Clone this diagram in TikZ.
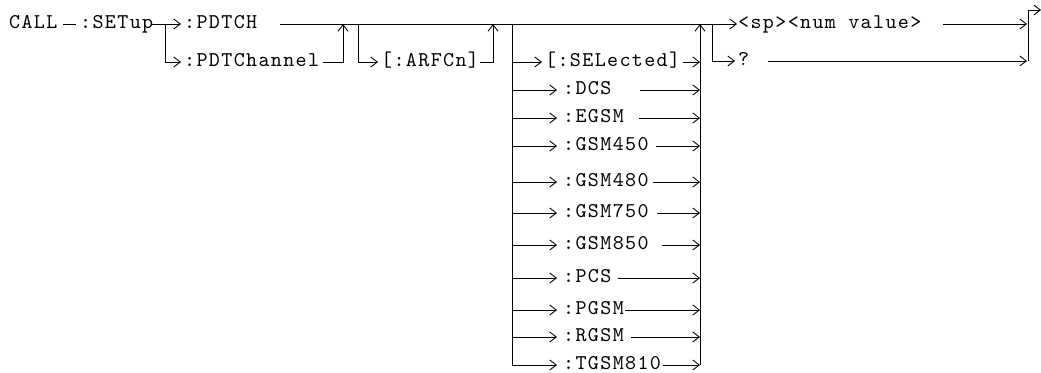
\documentclass[tikz,border=0pt]{standalone}
\usepackage{fontspec}
\newfontfamily\railfont{lmmono10-regular.otf}[LetterSpace=6.5]
\usetikzlibrary{arrows.meta}
\tikzset{
  txt/.style={anchor=base west, inner sep=0pt,
    font=\railfont\fontsize{21}{21}\selectfont},
  rail/.style={line width=0.9pt},
  arr/.style={rail, -{Straight Barb[length=6.5pt,width=10pt,line width=0.9pt]}}
}
\begin{document}
\begin{tikzpicture}[x=1pt,y=-1pt]
\useasboundingbox (0,0) rectangle (1041,372);
% texts
\node[txt] (call) at (9,28) {CALL};
\node[txt] (setup) at (80,28) {:SETup};
\node[txt] (pdtch) at (184,28) {:PDTCH};
\node[txt] (pdtchannel) at (184,66) {:PDTChannel};
\node[txt] (arfcn) at (381,66) {[:ARFCn]};
\node[txt] (sel) at (545,66) {[:SELected]};
\node[txt] (num) at (738,28) {<sp><num value>};
\node[txt] (query) at (738,65) {?};
% coordinates
\coordinate (d1) at (63,24); \coordinate (d2) at (76,24);
\coordinate (s1) at (152,24); \coordinate (b1) at (165,24); \coordinate (b1d) at (165,62);
\coordinate (t1) at (181,24); \coordinate (t2) at (181,62);
\coordinate (m0) at (280,24); \coordinate (j1) at (343,24); \coordinate (j1d) at (343,62);
\coordinate (pc) at (323,62);
\coordinate (b2) at (358,24); \coordinate (b2d) at (358,62); \coordinate (t3) at (378,62);
\coordinate (ae) at (480,62); \coordinate (j2d) at (493,62); \coordinate (j2) at (493,24);
\coordinate (b3) at (512,24); \coordinate (b3d) at (512,365);
\coordinate (j3) at (700,24); \coordinate (j3d) at (700,365);
\coordinate (b4) at (712,24); \coordinate (b4d) at (712,61); \coordinate (t4) at (735,61);
\coordinate (m1) at (737,24);
\coordinate (ne) at (943,24); \coordinate (ne2) at (1027,24);
\coordinate (qe) at (768,61); \coordinate (qe2) at (1027,61);
\coordinate (j4) at (1028,61); \coordinate (j4u) at (1028,10); \coordinate (out) at (1041,10);
% rails
\draw[rail] (d1) -- (d2);
\draw[rail] (s1) -- (b1);
\draw[arr] (b1) -- (t1);
\draw[arr] (b1) -- (b1d) -- (t2);
\draw[arr] (m0) -- (m1);
\draw[arr] (pc) -- (j1d) -- (j1);
\draw[arr] (b2) -- (b2d) -- (t3);
\draw[arr] (ae) -- (j2d) -- (j2);
\draw[rail] (b3) -- (b3d);
\draw[arr] (j3d) -- (j3);
\draw[arr] (b4) -- (b4d) -- (t4);
% selected
\coordinate (sel-l) at (512,62); \coordinate (sel-a) at (542,62);
\coordinate (sel-s) at (683,62); \coordinate (sel-e) at (700,62);
\draw[arr] (sel-l) -- (sel-a);
\draw[arr] (sel-s) -- (sel-e);
% list
\foreach \nm/\lab/\yy/\xe in {dcs/:DCS/90/640, egsm/:EGSM/118/639, g450/:GSM450/146/656,
  g480/:GSM480/182/653, g750/:GSM750/213/657, g850/:GSM850/245/662, pcs/:PCS/278/618,
  pgsm/:PGSM/310/625, rgsm/:RGSM/337/631, tgsm/:TGSM810/365/663}{
  \node[txt] (\nm) at (563,\yy+4) {\lab};
  \coordinate (\nm-l) at (512,\yy); \coordinate (\nm-a) at (557,\yy);
  \coordinate (\nm-s) at (\xe,\yy); \coordinate (\nm-e) at (700,\yy);
  \draw[arr] (\nm-l) -- (\nm-a);
  \draw[arr] (\nm-s) -- (\nm-e);
}
% outputs
\draw[arr] (ne) -- (ne2);
\draw[arr] (qe) -- (qe2);
\draw[arr] (j4) -- (j4u) -- (out);
\end{tikzpicture}
\end{document}
